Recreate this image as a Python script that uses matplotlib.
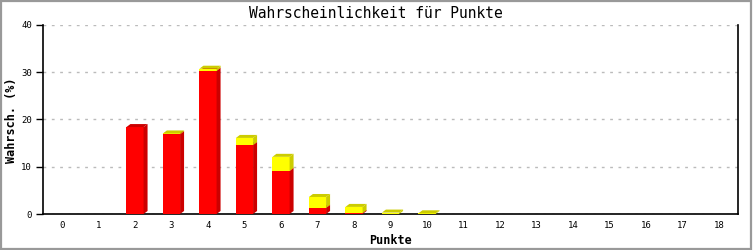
import matplotlib
matplotlib.use("Agg")
import matplotlib.pyplot as plt
from matplotlib.patches import Polygon, Rectangle

# data
punkte = list(range(19))
rot = [0, 0, 18.4, 16.9, 30.3, 14.6, 9.1, 1.3, 0.2, 0, 0, 0, 0, 0, 0, 0, 0, 0, 0]
gelb = [0, 0, 0, 0.15, 0.45, 1.5, 3.0, 2.3, 1.3, 0.3, 0.15, 0, 0, 0, 0, 0, 0, 0, 0]
yticks = [0, 10, 20, 30, 40]

fig = plt.figure(figsize=(7.53, 2.5), dpi=100)
ax = fig.add_axes([43 / 753, 36 / 250, 695 / 753, 189 / 250])

mono = "DejaVu Sans Mono"
xmin, xmax = -0.52, 18.52
ymin, ymax = 0, 40
ax.set_xlim(xmin, xmax)
ax.set_ylim(ymin, ymax)

# pixel offsets of the fake 3d depth, converted to data units
px_x = (xmax - xmin) / 695
px_y = (ymax - ymin) / 189
dx = 4 * px_x
dy = 3 * px_y
w = 0.47

def block(x0, y0, y1, front, side, top):
    if y1 - y0 <= 0:
        return
    ax.add_patch(Rectangle((x0, y0), w, y1 - y0, facecolor=front, edgecolor="none", zorder=3))
    ax.add_patch(Polygon([(x0 + w, y0), (x0 + w + dx, y0 + dy), (x0 + w + dx, y1 + dy), (x0 + w, y1)],
                         closed=True, facecolor=side, edgecolor="none", zorder=3))
    ax.add_patch(Polygon([(x0, y1), (x0 + dx, y1 + dy), (x0 + w + dx, y1 + dy), (x0 + w, y1)],
                         closed=True, facecolor=top, edgecolor="none", zorder=3))

for i in range(len(punkte)):
    x0 = punkte[i] - w / 2
    block(x0, 0, rot[i], "#ff0000", "#cc0000", "#cc0000")
    block(x0, rot[i], rot[i] + gelb[i], "#ffff00", "#cccc00", "#cccc00")

ax.set_yticks(yticks)
ax.set_xticks(punkte)
ax.set_xticklabels([str(p) for p in punkte], fontsize=6.5, family=mono)
ax.set_yticklabels([str(t) for t in yticks], fontsize=6.5, family=mono)
ax.tick_params(axis="x", length=0, pad=5)
ax.tick_params(axis="y", length=5, width=1, pad=3, direction="out")
ax.yaxis.set_ticks_position("left")

ax.grid(axis="y", color="#bbbbbb", linestyle=(0, (2, 4)), linewidth=1)
ax.set_axisbelow(True)
ax.spines["top"].set_visible(False)
for s in ["left", "right", "bottom"]:
    ax.spines[s].set_linewidth(1.2)
    ax.spines[s].set_color("black")

fig.text(376 / 753, 1 - 13 / 250, "Wahrscheinlichkeit für Punkte", ha="center", va="center",
         fontsize=10.5, family=mono)
fig.text(390 / 753, 1 - 240 / 250, "Punkte", ha="center", va="center",
         fontsize=8.5, family=mono, weight="bold")
fig.text(12 / 753, 1 - 120 / 250, "Wahrsch. (%)", ha="center", va="center", rotation=90,
         fontsize=8.5, family=mono, weight="bold")

# gray frame around the image
fig.patches.append(Rectangle((0.5 / 753, 1.5 / 250), 750 / 753, 247.5 / 250, transform=fig.transFigure,
                             fill=False, edgecolor="#999999", linewidth=1.6))

fig.savefig("out.png", dpi=100)
